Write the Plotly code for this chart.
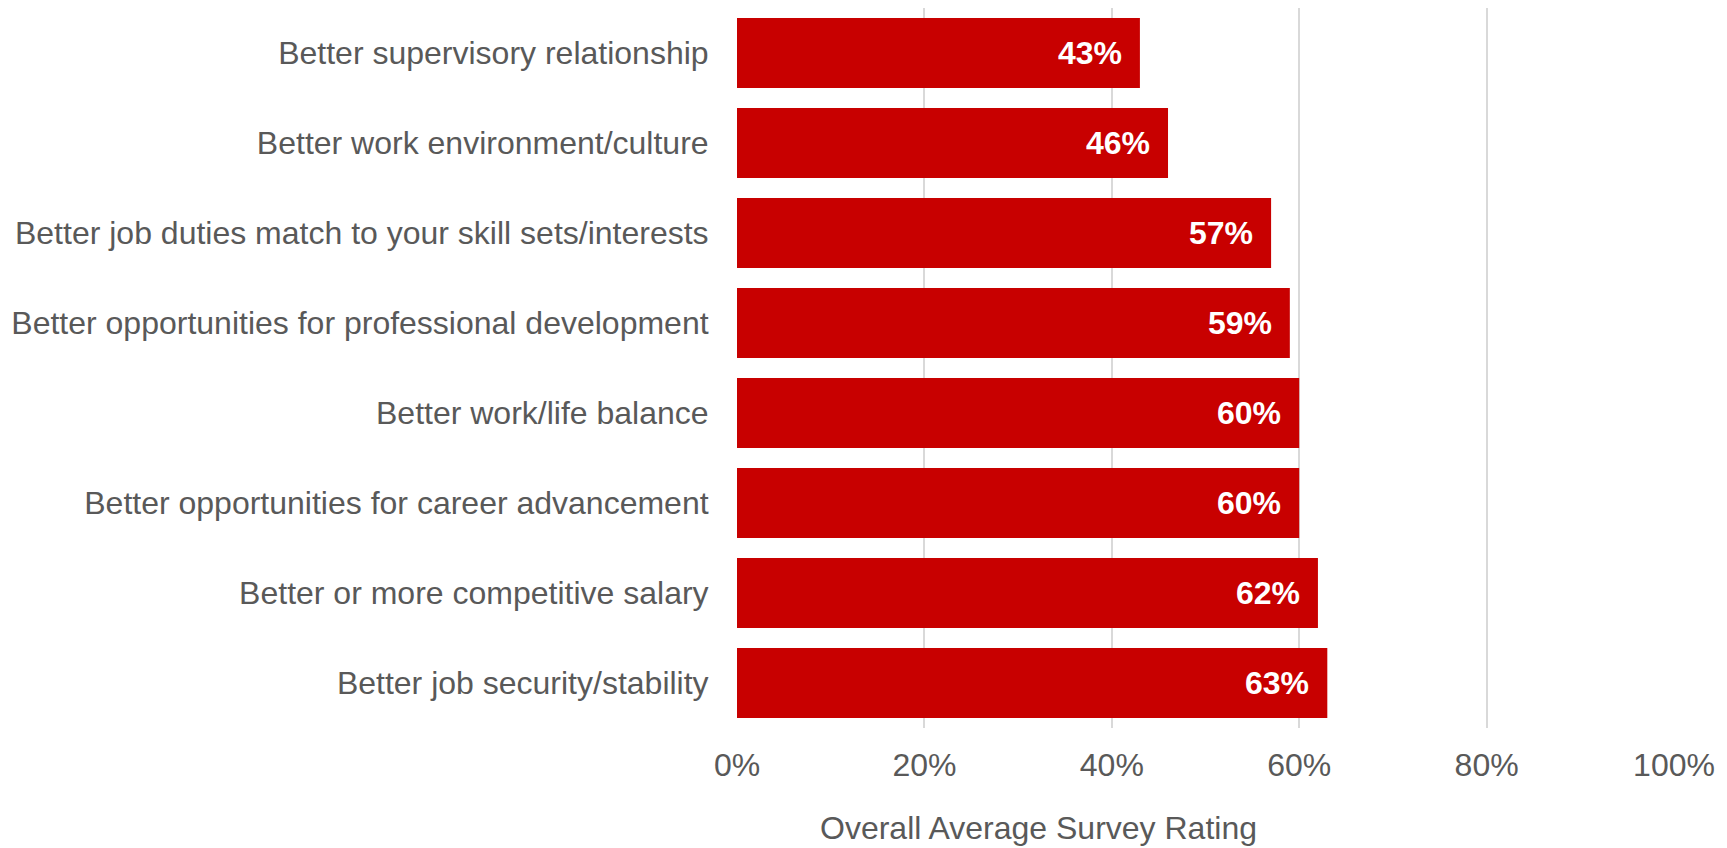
import plotly.graph_objects as go

categories = [
    "Better job security/stability",
    "Better or more competitive salary",
    "Better opportunities for career advancement",
    "Better work/life balance",
    "Better opportunities for professional development",
    "Better job duties match to your skill sets/interests",
    "Better work environment/culture",
    "Better supervisory relationship",
]
values = [0.63, 0.62, 0.60, 0.60, 0.59, 0.57, 0.46, 0.43]
tick_vals = [0, 0.2, 0.4, 0.6, 0.8, 1.0]
tick_text = ["0%", "20%", "40%", "60%", "80%", "100%"]
x_title = "Overall Average Survey Rating"

FONT = "Liberation Sans, Arial, sans-serif"
GRAY = "#595959"
RED = "#C80000"

fig = go.Figure(go.Bar(
    x=values, y=categories, orientation="h",
    marker=dict(color=RED, line=dict(width=0)),
    hoverinfo="x+y",
))

for v, c in zip(values, categories):
    fig.add_annotation(
        x=v, y=c, xref="x", yref="y",
        text=f"<b>{round(v*100)}%</b>", showarrow=False,
        xanchor="right", yanchor="middle", xshift=-16,
        font=dict(family=FONT, size=32, color="white"),
    )

fig.add_annotation(
    x=0.322, y=-0.139, xref="paper", yref="paper",
    text=x_title, showarrow=False, xanchor="center", yanchor="middle",
    font=dict(family=FONT, size=32, color=GRAY),
)

fig.update_layout(
    width=1719, height=840,
    margin=dict(l=729, r=53, t=0, b=120),
    paper_bgcolor="white", plot_bgcolor="white",
    bargap=0.22,
    showlegend=False,
    font=dict(family=FONT, color=GRAY),
)
fig.update_xaxes(
    range=[0, 1.0], tickvals=tick_vals, ticktext=tick_text,
    showgrid=True, gridcolor="#d9d9d9", gridwidth=1.5,
    zeroline=False, showline=False,
    ticks="outside", ticklen=9, tickcolor="rgba(0,0,0,0)",
    tickfont=dict(size=32, color=GRAY, family=FONT),
)
fig.update_yaxes(
    showgrid=False, zeroline=False, showline=False,
    ticks="outside", ticklen=21, tickcolor="rgba(0,0,0,0)",
    tickfont=dict(size=32, color=GRAY, family=FONT),
)
fig.write_html("out.html")
